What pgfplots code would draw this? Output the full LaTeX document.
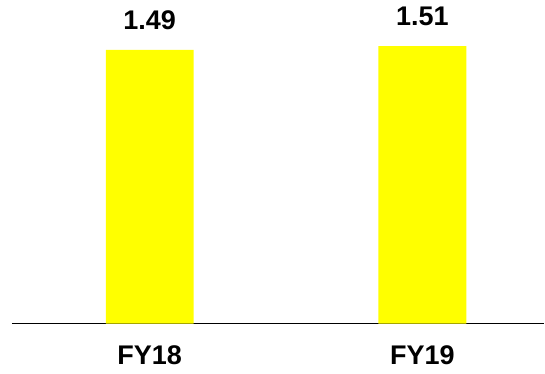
\documentclass[border=0pt]{standalone}
\usepackage{pgfplots}
\pgfplotsset{compat=1.18}
\usepackage{fontspec}
\setmainfont{Liberation Sans}
\begin{document}
\begin{tikzpicture}
\begin{axis}[
  scale only axis,
  width=533pt, height=324pt,
  xmin=-0.505, xmax=1.447,
  ymin=0, ymax=1.761,
  axis x line*=bottom,
  axis y line=none,
  x axis line style={black, line width=1.4pt, -},
  xtick={0,1},
  xticklabels={FY18,FY19},
  xtick style={draw=none},
  ytick=\empty,
  xticklabel style={font=\fontsize{27}{30}\selectfont\bfseries, inner sep=0pt, anchor=north, yshift=-22pt},
  clip=false,
  nodes near coords,
  nodes near coords style={font=\fontsize{27}{30}\selectfont\bfseries, inner sep=0pt, anchor=south, yshift=20pt},
  point meta=explicit symbolic,
]
\addplot[ybar, bar width=88pt, fill={rgb,255:red,255;green,255;blue,0}, draw=none]
  coordinates {(0,1.49) [1.49] (1,1.51) [1.51]};
\path (rel axis cs:0,0) ++(-12pt,-50pt) coordinate (bl);
\path (bl) rectangle (rel axis cs:1,1);
\end{axis}
\end{tikzpicture}
\end{document}
